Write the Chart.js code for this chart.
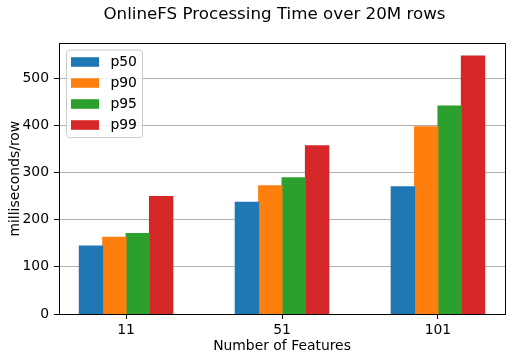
<!DOCTYPE html>
<html><head><meta charset="utf-8">
<script src="https://cdn.jsdelivr.net/npm/chart.js@4/dist/chart.umd.min.js"></script>
<style>html,body{margin:0;padding:0;background:#fff;} canvas{display:block;}</style>
</head><body>
<canvas id="c" width="512" height="361"></canvas>
<script>
const categories = ['11', '51', '101'];
const seriesNames = ['p50', 'p90', 'p95', 'p99'];
const p50 = [144, 237, 270];
const p90 = [163, 272, 397];
const p95 = [171, 289, 441];
const p99 = [249, 357, 547];
const yTickValues = [0, 100, 200, 300, 400, 500];
const colors = ['#1f77b4', '#ff7f0e', '#2ca02c', '#d62728'];

const FONT = 'DejaVu Sans';
Chart.defaults.font.family = FONT;
Chart.defaults.color = '#000';

const LEG_BOX_X = 71, LEG_BOX_W = 32.5, LEG_PATCH_W = 28;

const series = [p50, p90, p95, p99];
const datasets = series.map((vals, s) => ({
  label: seriesNames[s],
  data: vals.map((v, i) => ({x: i, y: v})),
  backgroundColor: colors[s],
  borderWidth: 0,
  inflateAmount: 0.5,
  categoryPercentage: 0.6,
  barPercentage: 1.0
}));

const framePlugin = {
  id: 'frame',
  afterLayout(chart) {
    const lg = chart.legend;
    lg.left = LEG_BOX_X - 7.1; lg.top = 47.95;
    lg.right = chart.chartArea.right; lg.bottom = chart.chartArea.bottom;
    const t = chart.titleBlock;
    t.left = 37; t.right = 512;
  },
  afterDatasetsDraw(chart) {
    const ctx = chart.ctx, a = chart.chartArea;
    ctx.save();
    const x = 66.5, y = 50, w = 76, h = 87.5, r = 3;
    ctx.beginPath();
    ctx.moveTo(x + r, y); ctx.lineTo(x + w - r, y); ctx.quadraticCurveTo(x + w, y, x + w, y + r);
    ctx.lineTo(x + w, y + h - r); ctx.quadraticCurveTo(x + w, y + h, x + w - r, y + h);
    ctx.lineTo(x + r, y + h); ctx.quadraticCurveTo(x, y + h, x, y + h - r);
    ctx.lineTo(x, y + r); ctx.quadraticCurveTo(x, y, x + r, y);
    ctx.closePath();
    ctx.fillStyle = 'rgba(255,255,255,0.8)';
    ctx.fill();
    ctx.strokeStyle = '#cccccc';
    ctx.lineWidth = 1;
    ctx.stroke();
    ctx.beginPath();
    ctx.strokeStyle = '#000';
    ctx.lineWidth = 1;
    ctx.moveTo(a.left, 43.5); ctx.lineTo(505.5, 43.5); ctx.lineTo(505.5, a.bottom + 0.5);
    ctx.stroke();
    ctx.restore();
    chart.legend.draw();
  }
};

new Chart(document.getElementById('c'), {
  type: 'bar',
  data: {datasets},
  plugins: [framePlugin],
  options: {
    responsive: false,
    animation: false,
    devicePixelRatio: 1,
    layout: {padding: {left: 0, right: 7, top: 0, bottom: 0}},
    plugins: {
      title: {
        display: true,
        text: 'OnlineFS Processing Time over 20M rows',
        font: {size: 16.7, weight: 'normal', family: FONT},
        color: '#000',
        padding: {top: 5, bottom: 18.34}
      },
      legend: {
        display: true,
        position: 'chartArea',
        align: 'start',
        labels: {
          font: {size: 13.9, family: FONT},
          color: '#000',
          boxWidth: LEG_BOX_W,
          boxHeight: 9.3,
          padding: 7.1,
          generateLabels(chart) {
            const items = Chart.defaults.plugins.legend.labels.generateLabels(chart);
            items.forEach((it, i) => {
              const c = colors[i];
              const g = chart.ctx.createLinearGradient(LEG_BOX_X, 0, LEG_BOX_X + LEG_BOX_W, 0);
              g.addColorStop(0, c);
              g.addColorStop(LEG_PATCH_W / LEG_BOX_W, c);
              g.addColorStop(LEG_PATCH_W / LEG_BOX_W, 'rgba(255,255,255,0)');
              g.addColorStop(1, 'rgba(255,255,255,0)');
              it.fillStyle = g;
              it.lineWidth = 0;
            });
            return items;
          }
        }
      },
      tooltip: {enabled: false}
    },
    scales: {
      x: {
        type: 'linear',
        min: -0.43,
        max: 2.43,
        offset: false,
        afterFit(scale) { scale.height = 47; },
        afterBuildTicks(scale) { scale.ticks = categories.map((_, i) => ({value: i})); },
        ticks: {
          callback: (v) => categories[v],
          font: {size: 13.9, family: FONT},
          color: '#000',
          padding: 3,
          maxRotation: 0,
          autoSkip: false
        },
        grid: {display: true, offset: false, drawOnChartArea: false, drawTicks: true, tickLength: 5, tickColor: '#000', color: '#000'},
        border: {display: true, color: '#000', width: 1},
        title: {display: true, text: 'Number of Features', font: {size: 13.9, family: FONT}, color: '#000', padding: {top: 0, bottom: 6.66}}
      },
      y: {
        type: 'linear',
        min: 0,
        max: 574,
        afterFit(scale) { scale.width = 59; },
        afterBuildTicks(scale) { scale.ticks = yTickValues.map(v => ({value: v})); },
        ticks: {
          font: {size: 13.9, family: FONT},
          color: '#000',
          padding: 5
        },
        grid: {color: '#b0b0b0', lineWidth: 1, tickLength: 5, tickColor: '#000', drawTicks: true},
        border: {display: true, color: '#000', width: 1},
        title: {display: true, text: 'milliseconds/row', font: {size: 13.9, family: FONT}, color: '#000', padding: {top: 6.66, bottom: 0}}
      }
    }
  }
});
</script>
</body></html>
